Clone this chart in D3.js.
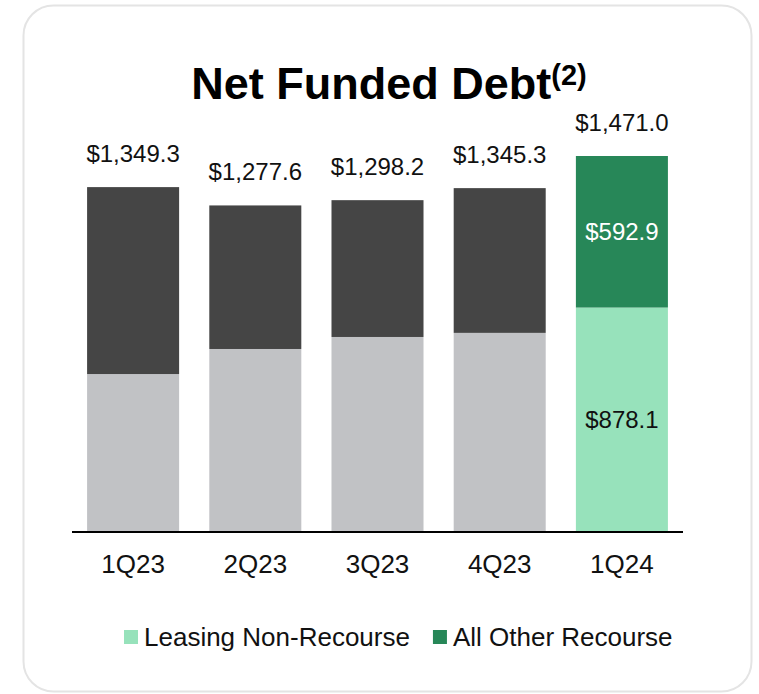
<!DOCTYPE html>
<html>
<head>
<meta charset="utf-8">
<script src="https://cdn.jsdelivr.net/npm/d3@7"></script>
<style>
  html, body { margin: 0; padding: 0; background: #ffffff; }
  svg { display: block; font-family: "Liberation Sans", Arial, sans-serif; }
</style>
</head>
<body>
<svg id="chart" width="759" height="694"></svg>
<script>
// ---- data ----
const categories = ["1Q23", "2Q23", "3Q23", "4Q23", "1Q24"];
const leasingNonRecourse = [618.0, 716.0, 763.0, 779.0, 878.1];
const allOtherRecourse = [731.3, 561.6, 535.2, 566.3, 592.9];
const totalLabels = ["$1,349.3", "$1,277.6", "$1,298.2", "$1,345.3", "$1,471.0"];
const segmentLabelsLeasing = [null, null, null, null, "$878.1"];
const segmentLabelsOther = [null, null, null, null, "$592.9"];
const seriesNames = ["Leasing Non-Recourse", "All Other Recourse"];
const titleText = "Net Funded Debt";
const titleNote = "(2)";

// ---- styles ----
const grayColors = ["#c1c2c5", "#454545"];
const greenColors = ["#97e2bb", "#278758"];
const highlightIndex = categories.length - 1;

const svg = d3.select("#chart");

// card
svg.append("rect")
  .attr("x", 23.5).attr("y", 5.5)
  .attr("width", 728).attr("height", 686)
  .attr("rx", 30).attr("ry", 30)
  .attr("fill", "#ffffff")
  .attr("stroke", "#e4e4e4")
  .attr("stroke-width", 2);

// title
const title = svg.append("text")
  .attr("x", 389).attr("y", 99)
  .attr("text-anchor", "middle")
  .attr("font-weight", "bold")
  .attr("font-size", 45)
  .attr("fill", "#000");
title.append("tspan").text(titleText);
title.append("tspan").attr("font-size", 29).attr("dy", -14).text(titleNote);

// scales
const x = d3.scaleBand()
  .domain(categories)
  .range([72, 683])
  .paddingInner(0.247)
  .paddingOuter(0.1235);

const totals = categories.map((c, i) => leasingNonRecourse[i] + allOtherRecourse[i]);
const y = d3.scaleLinear()
  .domain([0, d3.max(totals)])
  .range([532, 156]);

const rows = categories.map((c, i) => ({
  cat: c, i,
  leasing: leasingNonRecourse[i],
  other: allOtherRecourse[i]
}));
const stack = d3.stack().keys(["leasing", "other"])(rows);

const g = svg.append("g");
stack.forEach((layer, k) => {
  g.selectAll(null)
    .data(layer)
    .enter()
    .append("rect")
    .attr("x", d => x(d.data.cat))
    .attr("width", x.bandwidth())
    .attr("y", d => y(d[1]))
    .attr("height", d => y(d[0]) - y(d[1]))
    .attr("fill", d => (d.data.i === highlightIndex ? greenColors : grayColors)[k]);
});

// axis
const xAxis = svg.append("g")
  .attr("transform", "translate(0,532)")
  .call(d3.axisBottom(x).tickSize(0).tickPadding(0));
xAxis.select(".domain").attr("stroke", "#000").attr("stroke-width", 1.8)
  .attr("d", "M72,0H683");
xAxis.selectAll(".tick text")
  .attr("font-size", 26)
  .attr("font-family", "\"Liberation Sans\", Arial, sans-serif")
  .attr("fill", "#111")
  .attr("dy", null)
  .attr("y", 41);

// total labels
svg.selectAll(null)
  .data(rows)
  .enter()
  .append("text")
  .attr("x", d => x(d.cat) + x.bandwidth() / 2)
  .attr("y", d => y(d.leasing + d.other) - 25)
  .attr("text-anchor", "middle")
  .attr("font-size", 24)
  .attr("fill", "#111")
  .text((d, i) => totalLabels[i]);

// segment labels
svg.selectAll(null)
  .data(stack[0].filter(d => segmentLabelsLeasing[d.data.i]))
  .enter()
  .append("text")
  .attr("x", d => x(d.data.cat) + x.bandwidth() / 2)
  .attr("y", d => (y(d[0]) + y(d[1])) / 2)
  .attr("dy", "0.35em")
  .attr("text-anchor", "middle")
  .attr("font-size", 24)
  .attr("fill", "#111")
  .text(d => segmentLabelsLeasing[d.data.i]);
svg.selectAll(null)
  .data(stack[1].filter(d => segmentLabelsOther[d.data.i]))
  .enter()
  .append("text")
  .attr("x", d => x(d.data.cat) + x.bandwidth() / 2)
  .attr("y", d => (y(d[0]) + y(d[1])) / 2)
  .attr("dy", "0.35em")
  .attr("text-anchor", "middle")
  .attr("font-size", 24)
  .attr("fill", "#ffffff")
  .text(d => segmentLabelsOther[d.data.i]);

// legend
const legend = svg.append("g");
let lx = 124;
seriesNames.forEach((name, k) => {
  legend.append("rect")
    .attr("x", lx).attr("y", 630)
    .attr("width", 14).attr("height", 14)
    .attr("fill", greenColors[k]);
  const t = legend.append("text")
    .attr("x", lx + 20).attr("y", 646)
    .attr("font-size", 26)
    .attr("fill", "#111")
    .text(name);
  lx += 20 + t.node().getComputedTextLength() + 23;
});
</script>
</body>
</html>
